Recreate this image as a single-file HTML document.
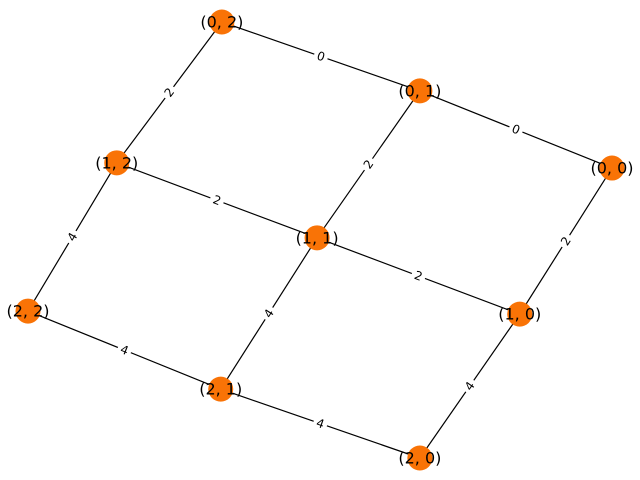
<!DOCTYPE html>
<html><head><meta charset="utf-8"><style>
html,body{margin:0;padding:0;background:#fff;}
svg{display:block;}
text{font-family:"DejaVu Sans","Liberation Sans",sans-serif;}
</style></head><body>
<svg id="chart" width="640" height="480" viewBox="0 0 640 480">
<g id="edges"></g>
<g id="elabels"></g>
<g id="nodes"></g>
</svg>
<script>
const nodeNames = ["(0, 2)","(0, 1)","(0, 0)","(1, 2)","(1, 1)","(1, 0)","(2, 2)","(2, 1)","(2, 0)"];
const nodeX = [0.332,0.671,1.0,0.152,0.495,0.842,0.0,0.330,0.671];
const nodeY = [0.0,0.158,0.335,0.323,0.495,0.670,0.663,0.842,1.0];
const edgeFrom = [0,1,0,1,2,3,4,3,4,5,6,7];
const edgeTo   = [1,2,3,4,5,4,5,6,7,8,7,8];
const edgeWeights = [0,0,2,2,2,2,2,4,4,4,4,4];

function sx(v){return 28 + v*(612-28);}
function sy(v){return 22 + v*(458-22);}
const NS="http://www.w3.org/2000/svg";
const gE=document.getElementById('edges'),gL=document.getElementById('elabels'),gN=document.getElementById('nodes');
for(let i=0;i<edgeFrom.length;i++){
  const a=edgeFrom[i],b=edgeTo[i];
  const x1=sx(nodeX[a]),y1=sy(nodeY[a]),x2=sx(nodeX[b]),y2=sy(nodeY[b]);
  const l=document.createElementNS(NS,'line');
  l.setAttribute('x1',x1);l.setAttribute('y1',y1);l.setAttribute('x2',x2);l.setAttribute('y2',y2);
  l.setAttribute('stroke','#000');l.setAttribute('stroke-width','1.2');
  
  
  gE.appendChild(l);
  let ang=Math.atan2(y2-y1,x2-x1)*180/Math.PI;
  if(ang>90)ang-=180; if(ang<-90)ang+=180;
  const mx=(x1+x2)/2,my=(y1+y2)/2;
  const g=document.createElementNS(NS,'g');
  g.setAttribute('transform','translate('+mx+','+my+') rotate('+ang+')');
  
  
  const r=document.createElementNS(NS,'rect');
  r.setAttribute('x',-7);r.setAttribute('y',-8);r.setAttribute('width',14);r.setAttribute('height',16);r.setAttribute('fill','#fff');
  g.appendChild(r);
  const t=document.createElementNS(NS,'text');
  t.setAttribute('text-anchor','middle');t.setAttribute('dominant-baseline','central');t.setAttribute('font-size','12');
  t.textContent=edgeWeights[i];
  g.appendChild(t);
  gL.appendChild(g);
}
for(let i=0;i<nodeNames.length;i++){
  const cx=sx(nodeX[i]),cy=sy(nodeY[i]);
  const c=document.createElementNS(NS,'circle');
  c.setAttribute('cx',cx);c.setAttribute('cy',cy);c.setAttribute('r',12.5);c.setAttribute('fill','#f97306');
  
  
  gN.appendChild(c);
  const t=document.createElementNS(NS,'text');
  t.setAttribute('x',cx);t.setAttribute('y',cy);t.setAttribute('text-anchor','middle');t.setAttribute('dominant-baseline','central');t.setAttribute('font-size','16');
  t.textContent=nodeNames[i];
  
  
  gN.appendChild(t);
}
</script>
</body></html>
